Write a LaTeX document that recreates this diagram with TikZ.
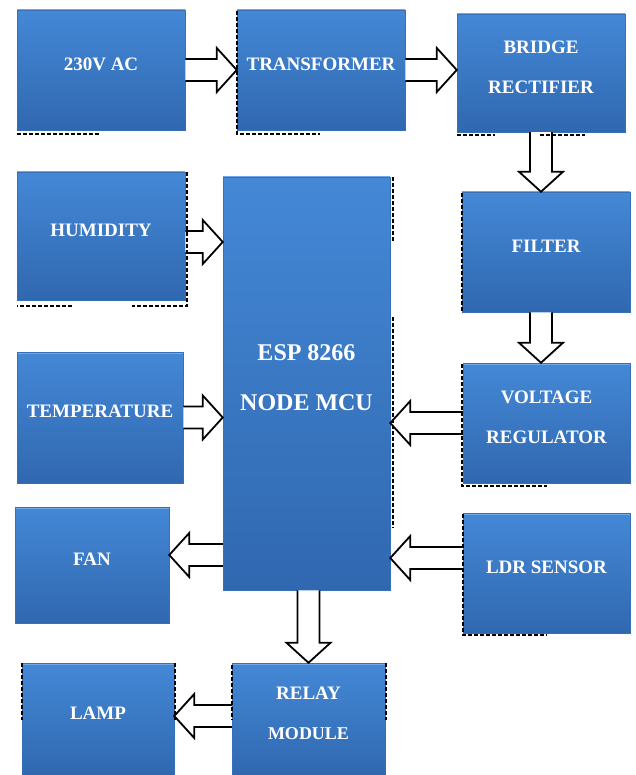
\documentclass[tikz,border=0pt]{standalone}
\usepackage{fontspec}
\setmainfont{Liberation Serif}
\usetikzlibrary{calc}
\definecolor{cajaarriba}{RGB}{68,136,214}
\definecolor{cajaabajo}{RGB}{48,104,176}
\definecolor{cajaborde}{RGB}{56,112,184}
\definecolor{cajaluz}{RGB}{110,170,235}
\tikzset{
  caja/.style={rectangle, top color=cajaarriba, bottom color=cajaabajo,
    draw=cajaborde, line width=0.5pt, text=white, align=center,
    inner sep=0pt, text depth=12pt, minimum width=168pt, minimum height=120pt,
    font=\fontsize{19}{40}\selectfont\bfseries,
    path picture={\draw[cajaluz, line width=3pt]
      (path picture bounding box.north west) -- (path picture bounding box.north east);}},
  hueca/.style={draw=black, fill=white, line width=1.8pt, line join=miter,
    to path={let \p1=(\tikztostart), \p2=(\tikztotarget),
      \p3=($(\p2)!20pt!(\p1)$) in
      ($(\p1)!11pt!90:(\p2)$) -- ($(\p3)!11pt!90:(\p2)$) -- ($(\p3)!22pt!90:(\p2)$)
      -- (\p2) -- ($(\p3)!22pt!-90:(\p2)$) -- ($(\p3)!11pt!-90:(\p2)$)
      -- ($(\p1)!11pt!-90:(\p2)$) \tikztonodes}},
  roto/.style={black, line width=1.5pt, dash pattern=on 4pt off 2pt}
}
\begin{document}
\begin{tikzpicture}[x=1pt, y=-1pt]
\useasboundingbox (0,0) rectangle (635,775);
% Fuente de alimentacion
\node[caja] (ac) at (101,70) {230V AC};
\node[caja] (tr) at (321,70) {TRANSFORMER};
\node[caja, minimum height=118pt] (br) at (541,73) {BRIDGE\\RECTIFIER};
\node[caja] (fil) at (546,252) {FILTER};
\node[caja, minimum width=167pt] (vr) at (546.5,423) {VOLTAGE\\REGULATOR};
% Controlador
\node[caja, minimum width=167pt, minimum height=413pt,
  font=\fontsize{24}{50}\selectfont\bfseries] (esp) at (306.5,383.5) {ESP 8266\\NODE MCU};
% Sensores
\node[caja, minimum height=128pt] (hum) at (101,236) {HUMIDITY};
\node[caja, minimum width=166pt, minimum height=131pt] (tem) at (100,417.5) {TEMPERATURE};
\node[caja, minimum width=167pt] (ldr) at (546.5,573) {LDR SENSOR};
% Salidas
\node[caja, minimum width=154pt, minimum height=116pt] (fan) at (92,565) {FAN};
\node[caja, minimum width=153pt, minimum height=112pt] (rel) at (308.5,719)
  {RELAY\\{\fontsize{18}{20}\selectfont MODULE}};
\node[caja, minimum width=152pt, minimum height=112pt] (lamp) at (98,719) {LAMP};
% Flechas
\draw[hueca] (ac.east) to (tr.west);
\draw[hueca] (tr.east) to (tr.east -| br.west);
\draw[hueca] (br.south) to (br.south |- fil.north);
\draw[hueca] (br.south |- fil.south) to (br.south |- vr.north);
\draw[hueca] ([yshift=-6pt]hum.east) to ([yshift=-6pt]hum.east -| esp.west);
\draw[hueca] (tem.east) to (tem.east -| esp.west);
\draw[hueca] (vr.west) to (vr.west -| esp.east);
\draw[hueca] ([yshift=15pt]ldr.west) to ([yshift=15pt]ldr.west -| esp.east);
\draw[hueca] ([yshift=10pt]fan.east -| esp.west) to ([yshift=10pt]fan.east);
\draw[hueca] (rel.north |- esp.south) to (rel.north);
\draw[hueca] ([yshift=3pt]rel.west) to ([yshift=3pt]rel.west -| lamp.east);
% Bordes rotos
\draw[roto] (17,134) -- (100,134);
\draw[roto] (237,11) -- (237,134) -- (320,134);
\draw[roto] (457,135) -- (495,135) (540,135) -- (585,135);
\draw[roto] (187,172) -- (187,306) -- (132,306) (72,306) -- (17,306);
\draw[roto] (393,177) -- (393,242) (393,317) -- (393,528);
\draw[roto] (462,193) -- (462,313);
\draw[roto] (462,364) -- (462,486) -- (547,486);
\draw[roto] (463,514) -- (463,635) -- (547,635);
\draw[roto] (22,663) -- (22,720) (175,663) -- (175,720);
\draw[roto] (232,665) -- (232,720) (386,663) -- (386,720);
\end{tikzpicture}
\end{document}
